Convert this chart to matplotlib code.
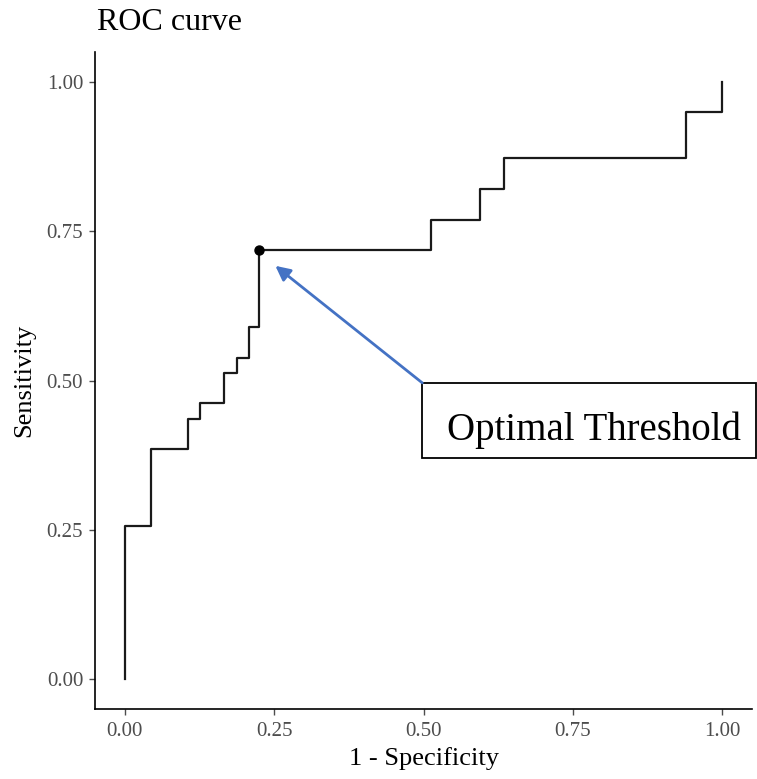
import matplotlib
matplotlib.use("Agg")
import matplotlib.pyplot as plt
from matplotlib.patches import Rectangle

# ROC step points (1 - specificity, sensitivity)
fpr = [0.0, 0.0, 0.043, 0.105, 0.126, 0.166, 0.187, 0.208, 0.225, 0.512, 0.594, 0.635, 0.939, 1.0]
tpr = [0.0, 0.256, 0.385, 0.436, 0.462, 0.513, 0.538, 0.590, 0.718, 0.769, 0.821, 0.872, 0.949, 1.0]
opt_point = (0.225, 0.718)
ticks = [0.0, 0.25, 0.5, 0.75, 1.0]
tick_labels = ["0.00", "0.25", "0.50", "0.75", "1.00"]

plt.rcParams["font.family"] = ["Liberation Serif", "DejaVu Serif"]

fig = plt.figure(figsize=(7.57, 7.79), dpi=100)
ax = fig.add_axes([95 / 757, 70 / 779, 657 / 757, 657 / 779])

ax.step(fpr, tpr, where="post", color="#1a1a1a", lw=1.6)
ax.plot(*opt_point, "o", color="black", ms=6.5)

# annotation box + arrow
ax.add_patch(Rectangle((0.498, 0.370), 0.558, 0.126, fc="white", ec="black",
                       lw=1.3, clip_on=False, zorder=3))
ax.text(0.786, 0.401, "Optimal Threshold", fontsize=28, ha="center",
        va="baseline", zorder=4)
ax.annotate("", xy=(0.252, 0.692), xytext=(0.498, 0.496),
            arrowprops=dict(arrowstyle="-|>", color="#4472C4", lw=2,
                            mutation_scale=22, shrinkA=0, shrinkB=0))

ax.set_xlim(-0.05, 1.05)
ax.set_ylim(-0.05, 1.05)
ax.set_xticks(ticks)
ax.set_xticklabels(tick_labels)
ax.set_yticks(ticks)
ax.set_yticklabels(tick_labels)
ax.tick_params(colors="#4d4d4d", labelsize=15, length=4.5, width=1)
ax.tick_params(axis="x", pad=5)
ax.tick_params(axis="y", pad=4)
for s in ["top", "right"]:
    ax.spines[s].set_visible(False)
for s in ["left", "bottom"]:
    ax.spines[s].set_linewidth(1.2)
    ax.spines[s].set_color("black")

ax.set_xlabel("1 - Specificity", fontsize=19, labelpad=4)
ax.set_ylabel("Sensitivity", fontsize=19, labelpad=8)
fig.text(97 / 757, 1 - 22 / 779, "ROC curve", fontsize=23, ha="left", va="center")

fig.savefig("out.png", dpi=100)
